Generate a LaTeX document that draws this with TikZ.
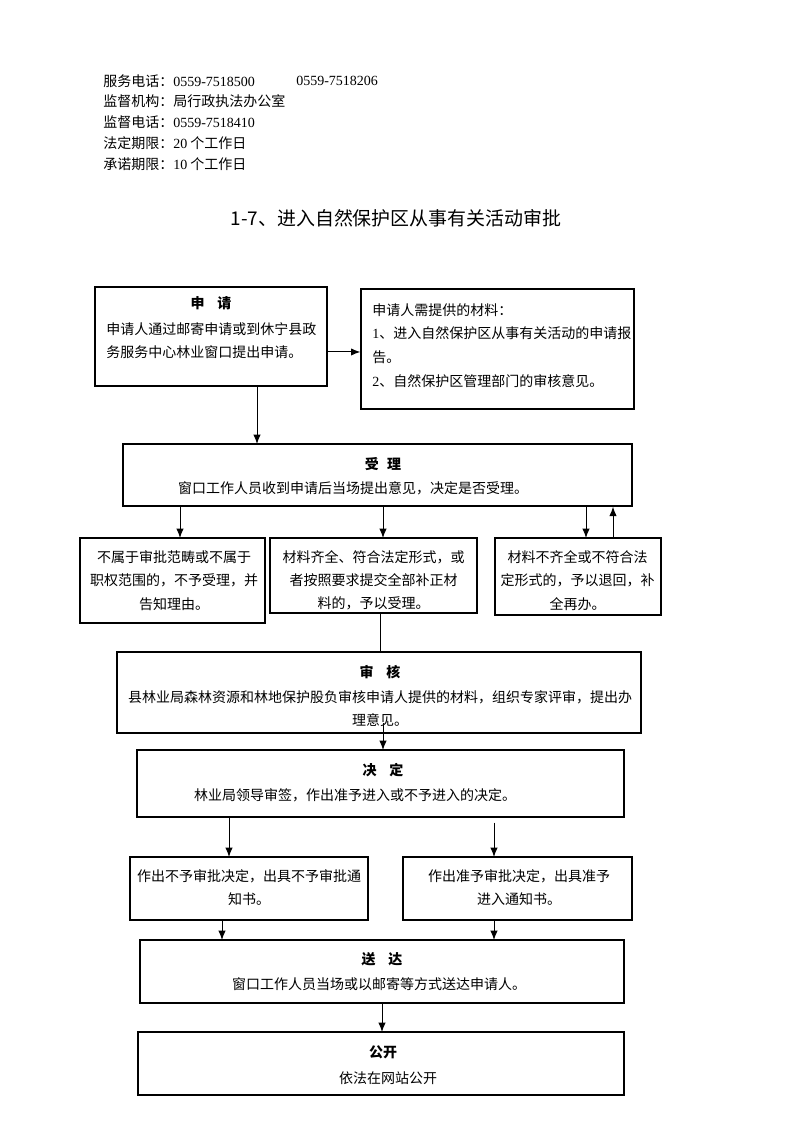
\documentclass[tikz,border=0pt]{standalone}
\usepackage{fontspec}
\setmainfont{Liberation Serif}
\newfontfamily\cj{Noto Sans CJK SC}
\usetikzlibrary{arrows.meta,fit}
\newcommand\dg[1]{{\rmfamily #1}}
\begin{document}
\begin{tikzpicture}[x=0.75pt,y=-0.75pt,
  box/.style={draw, line width=1pt, inner sep=0pt},
  txt/.style={font=\cj\fontsize{10.5}{17.4}\selectfont, inner sep=0pt, align=center},
  hd/.style={font=\cj\fontsize{10.5}{12}\selectfont, inner sep=0pt, anchor=west},
  ttl/.style={font=\cj\bfseries\fontsize{10.5}{12}\selectfont, inner sep=0pt},
  arr/.style={-{Latex[length=7pt,width=5.5pt]}, line width=0.75pt},
  barend/.style={-{Bar[width=5pt,line width=0.75pt]}, line width=0.75pt}]
\useasboundingbox (0,0) rectangle (794,1122);

% header
\node[hd] (h1) at (103,81) {服务电话：\dg{0559-7518500}};
\node[hd] (h1b) at (296,81) {\dg{0559-7518206}};
\node[hd] (h2) at (103,101.5) {监督机构：局行政执法办公室};
\node[hd] (h3) at (103,122.5) {监督电话：\dg{0559-7518410}};
\node[hd] (h4) at (103,143.5) {法定期限：\dg{20} 个工作日};
\node[hd] (h5) at (103,164) {承诺期限：\dg{10} 个工作日};
\node[font=\cj\fontsize{14.2}{17}\selectfont, inner sep=0pt] (title) at (396,218) {1-7、进入自然保护区从事有关活动审批};

% boxes
\node[box, fit={(95,287) (327,386)}] (sq) {};
\node[box, fit={(361,289) (634,409)}] (cl) {};
\node[box, fit={(123,444) (632,506)}] (sl) {};
\node[box, fit={(80,538) (265,623)}] (nb1) {};
\node[box, fit={(270,538) (477,613)}] (nb2) {};
\node[box, fit={(495,538) (661,615)}] (nb3) {};
\node[box, fit={(117,652) (641,733)}] (sh) {};
\node[box, fit={(137,750) (624,817)}] (jd) {};
\node[box, fit={(130,857) (368,920)}] (d1) {};
\node[box, fit={(403,857) (632,920)}] (d2) {};
\node[box, fit={(140,940) (624,1003)}] (sd) {};
\node[box, fit={(138,1032) (624,1095)}] (gk) {};

% texts
\node[ttl] (sqt) at (211,303) {申\hspace{0.9em}请};
\node[txt, align=left, anchor=west] (sqx) at (106,340.5) {申请人通过邮寄申请或到休宁县政\\务服务中心林业窗口提出申请。};
\node[txt, align=left, anchor=west, font=\cj\fontsize{10.5}{17.8}\selectfont] (clx) at (372,345.5) {申请人需提供的材料：\\\dg{1}、进入自然保护区从事有关活动的申请报\\告。\\\dg{2}、自然保护区管理部门的审核意见。};
\node[ttl] (slt) at (383,464) {受\hspace{0.6em}理};
\node[txt] (slx) at (353,488) {窗口工作人员收到申请后当场提出意见，决定是否受理。};
\node[txt] (n1x) at (174,580.5) {不属于审批范畴或不属于\\职权范围的，不予受理，并\\告知理由。};
\node[txt] (n2x) at (373.5,580.5) {材料齐全、符合法定形式，或\\者按照要求提交全部补正材\\料的，予以受理。};
\node[txt] (n3x) at (577.5,580.5) {材料不齐全或不符合法\\定形式的，予以退回，补\\全再办。};
\node[ttl] (sht) at (380,672) {审\hspace{0.9em}核};
\node[txt] (shx) at (380,708.5) {县林业局森林资源和林地保护股负审核申请人提供的材料，组织专家评审，提出办\\理意见。};
\node[ttl] (jdt) at (383,770) {决\hspace{0.9em}定};
\node[txt] (jdx) at (355,795) {林业局领导审签，作出准予进入或不予进入的决定。};
\node[txt] (d1x) at (249,887.5) {作出不予审批决定，出具不予审批通\\知书。};
\node[txt] (d2x) at (519,887.5) {作出准予审批决定，出具准予\\进入通知书。};
\node[ttl] (sdt) at (382,959) {送\hspace{0.9em}达};
\node[txt] (sdx) at (379,984) {窗口工作人员当场或以邮寄等方式送达申请人。};
\node[ttl] (gkt) at (383,1052) {公开};
\node[txt] (gkx) at (388,1078) {依法在网站公开};

% connector end points
\coordinate (c1) at (257,444);
\coordinate (c2) at (180,538);
\coordinate (c3) at (383,538);
\coordinate (c4) at (586,538);
\coordinate (c5) at (613,538);
\coordinate (c6) at (380,652);
\coordinate (c7) at (383,750);
\coordinate (c8) at (229,857);
\coordinate (c9) at (494,857);
\coordinate (c10) at (222,940);
\coordinate (c11) at (494,940);
\coordinate (c12) at (382,1032);

% connectors
\draw[arr] ([yshift=-11.6pt]sq.east) coordinate (p1) -- (p1 -| cl.west);
\draw[arr] (sq.south -| c1) -- (c1);
\draw[arr] (sl.south -| c2) -- (c2);
\draw[arr] (sl.south -| c3) -- (c3);
\draw[arr] (sl.south -| c4) -- (c4);
\draw[arr] (c5) -- (sl.south -| c5);
\draw[barend] (nb2.south -| c6) -- (c6);
\draw[arr] ([yshift=8pt]sh.south -| c7) -- (c7);
\draw[arr] (jd.south -| c8) -- (c8);
\draw[arr, shorten <=3.75pt] (jd.south -| c9) -- (c9);
\draw[arr] (d1.south -| c10) -- (c10);
\draw[arr] (d2.south -| c11) -- (c11);
\draw[arr] (sd.south -| c12) -- (c12);
\end{tikzpicture}
\end{document}
